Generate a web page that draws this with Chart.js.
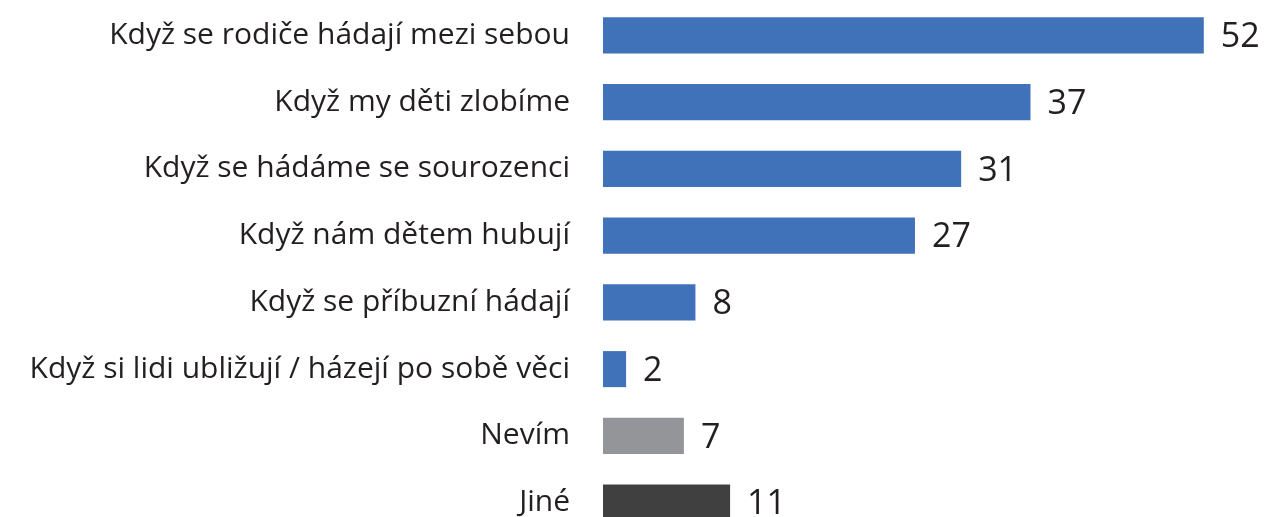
<!DOCTYPE html>
<html>
<head>
<meta charset="utf-8">
<script src="https://cdn.jsdelivr.net/npm/chart.js@4.4.1/dist/chart.umd.min.js"></script>
<style>
  html, body { margin: 0; padding: 0; background: #fff; overflow: hidden; }
  canvas { display: block; }
</style>
</head>
<body>
<canvas id="chart" width="1281" height="536"></canvas>
<script>
const categories = [
  'Když se rodiče hádají mezi sebou',
  'Když my děti zlobíme',
  'Když se hádáme se sourozenci',
  'Když nám dětem hubují',
  'Když se příbuzní hádají',
  'Když si lidi ubližují / házejí po sobě věci',
  'Nevím',
  'Jiné'
];
const values = [52, 37, 31, 27, 8, 2, 7, 11];
const barColors = ['#3f72b9', '#3f72b9', '#3f72b9', '#3f72b9', '#3f72b9', '#3f72b9', '#939598', '#404040'];

const TEXT = '#231f20';

// value labels at bar ends
const valueLabels = {
  id: 'valueLabels',
  afterDatasetsDraw(chart){
    const ctx = chart.ctx;
    const meta = chart.getDatasetMeta(0);
    ctx.save();
    ctx.font = '34px "Open Sans"';
    ctx.fillStyle = TEXT;
    ctx.textAlign = 'left';
    ctx.textBaseline = 'middle';
    meta.data.forEach((bar, i) => {
      ctx.fillText(String(values[i]), bar.x + 17, bar.y + 2);
    });
    ctx.restore();
  }
};

new Chart(document.getElementById('chart').getContext('2d'), {
  type: 'bar',
  data: {
    labels: categories,
    datasets: [{ data: values, backgroundColor: barColors, borderWidth: 0 }]
  },
  options: {
    indexAxis: 'y',
    responsive: false,
    animation: false,
    layout: { padding: { top: 2, right: 31, bottom: 0, left: 0 } },
    plugins: { legend: { display: false }, tooltip: { enabled: false } },
    datasets: { bar: { categoryPercentage: 1, barPercentage: 0.54 } },
    scales: {
      x: { display: false, min: 0, max: 56 },
      y: {
        grid: { display: false, drawTicks: false },
        border: { display: false },
        ticks: { color: TEXT, padding: 33, font: { family: '"Open Sans"', size: 30 } },
        afterFit(scale){
          scale.width = 603;
          // drop the extra top/bottom room chart.js adds for the labels
          scale.paddingTop = 0;
          scale.paddingBottom = 0;
        }
      }
    }
  },
  plugins: [valueLabels]
});
</script>
</body>
</html>
